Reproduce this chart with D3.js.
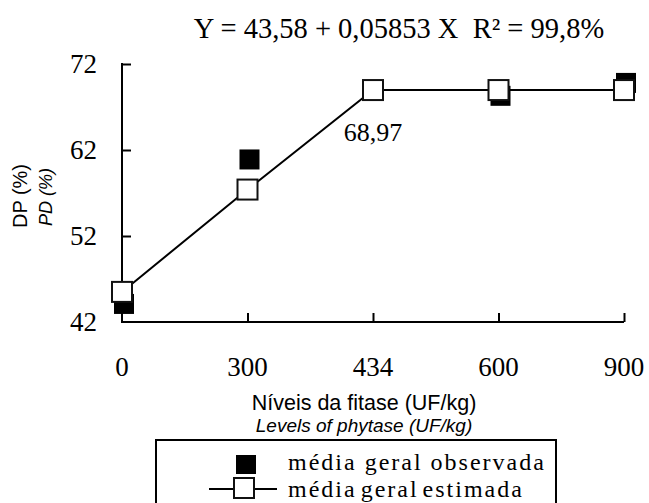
<!DOCTYPE html>
<html><head><meta charset="utf-8">
<script src="https://cdn.jsdelivr.net/npm/d3@7"></script>
<style>body{margin:0;background:#fff}svg{display:block}</style>
</head><body>
<svg id="c" width="649" height="503"></svg>
<script>
const levels = ["0","300","434","600","900"];
const observed = [44.1, 60.9, null, 68.3, 69.8];
const estimated = [45.5, 57.4, 68.97, 68.97, 68.97];
const yTicks = [42, 52, 62, 72];
const equation = "Y = 43,58 + 0,05853 X\u00A0\u00A0R\u00B2 = 99,8%";
const plateauLabel = "68,97";

const svg = d3.select("#c");
const serif = "'Liberation Serif','Times New Roman',serif";
const sans = "'Liberation Sans',Arial,sans-serif";

const x = d3.scalePoint().domain(levels).range([122, 624]);
const y = d3.scaleLinear().domain([42, 72]).range([322, 64]);

// Axes
const gy = svg.append("g").attr("transform", "translate(122,0)")
  .call(d3.axisRight(y).tickValues(yTicks.filter(v => v !== 42)).tickSize(9).tickFormat(""));
gy.select(".domain").remove();
gy.selectAll("line").attr("stroke", "#000").attr("stroke-width", 2);
svg.append("line").attr("x1",122).attr("x2",122).attr("y1",y(72)-1).attr("y2",y(42))
  .attr("stroke","#000").attr("stroke-width",2);
svg.append("line").attr("x1",121).attr("x2",624).attr("y1",y(42)).attr("y2",y(42))
  .attr("stroke","#000").attr("stroke-width",2);

const gx = svg.append("g").attr("transform", `translate(0,${y(42)})`)
  .call(d3.axisTop(x).tickValues(levels.slice(1)).tickSize(9).tickFormat(""));
gx.select(".domain").remove();
gx.selectAll("line").attr("stroke", "#000").attr("stroke-width", 2);

// tick labels
svg.selectAll(".yl").data(yTicks).join("text")
  .attr("x", 97).attr("y", d => y(d)).attr("dy", "0.34em")
  .attr("text-anchor", "end").attr("font-family", serif).attr("font-size", 27)
  .text(d => d);
svg.selectAll(".xl").data(levels).join("text")
  .attr("x", d => x(d)).attr("y", 376)
  .attr("text-anchor", "middle").attr("font-family", serif).attr("font-size", 27)
  .text(d => d);

// axis titles
svg.append("text").attr("x", 364).attr("y", 410).attr("text-anchor","middle")
  .attr("font-family", sans).attr("font-size", 21.5).text("Níveis da fitase (UF/kg)");
svg.append("text").attr("x", 364).attr("y", 432).attr("text-anchor","middle")
  .attr("font-family", sans).attr("font-size", 19).attr("font-style","italic")
  .text("Levels of phytase (UF/kg)");
svg.append("text").attr("transform","translate(27,196) rotate(-90)").attr("text-anchor","middle")
  .attr("font-family", sans).attr("font-size", 20).text("DP (%)");
svg.append("text").attr("transform","translate(52,197) rotate(-90)").attr("text-anchor","middle")
  .attr("font-family", sans).attr("font-size", 18).attr("font-style","italic").text("PD (%)");

// equation
svg.append("text").attr("x", 399).attr("y", 38).attr("text-anchor","middle")
  .attr("font-family", serif).attr("font-size", 28.5).text(equation);

// observed markers
const obs = levels.map((l,i)=>({l, v: observed[i]})).filter(d => d.v != null);
svg.selectAll(".obs").data(obs).join("rect")
  .attr("x", d => x(d.l) - 10 + 2).attr("y", d => y(d.v) - 10)
  .attr("width", 20).attr("height", 20).attr("fill", "#000");

// estimated line
const est = levels.map((l,i)=>({l, v: estimated[i]}));
svg.append("path").datum(est)
  .attr("d", d3.line().x(d => x(d.l)).y(d => y(d.v)))
  .attr("fill","none").attr("stroke","#000").attr("stroke-width",2);
svg.selectAll(".est").data(est).join("rect")
  .attr("x", d => x(d.l) - 10).attr("y", d => y(d.v) - 10)
  .attr("width", 20).attr("height", 20).attr("fill", "#fff")
  .attr("stroke","#111").attr("stroke-width",2);

svg.append("text").attr("x", x("434")).attr("y", 141).attr("text-anchor","middle")
  .attr("font-family", serif).attr("font-size", 26).text(plateauLabel);

// legend
svg.append("rect").attr("x",156).attr("y",440).attr("width",400).attr("height",70)
  .attr("fill","none").attr("stroke","#000").attr("stroke-width",2);
svg.append("rect").attr("x",236).attr("y",455).attr("width",20).attr("height",19).attr("fill","#000");
svg.append("line").attr("x1",209).attr("x2",277).attr("y1",489).attr("y2",489)
  .attr("stroke","#000").attr("stroke-width",2);
svg.append("rect").attr("x",234).attr("y",478).attr("width",20).attr("height",20)
  .attr("fill","#fff").attr("stroke","#111").attr("stroke-width",2);
svg.append("text").attr("x",288).attr("y",470).attr("font-family",serif).attr("font-size",24)
  .attr("letter-spacing",2).text("média geral observada");
svg.append("text").attr("x",288).attr("y",497).attr("font-family",serif).attr("font-size",24)
  .attr("letter-spacing",2).attr("word-spacing",-4).text("média geral estimada");
</script>
</body></html>
